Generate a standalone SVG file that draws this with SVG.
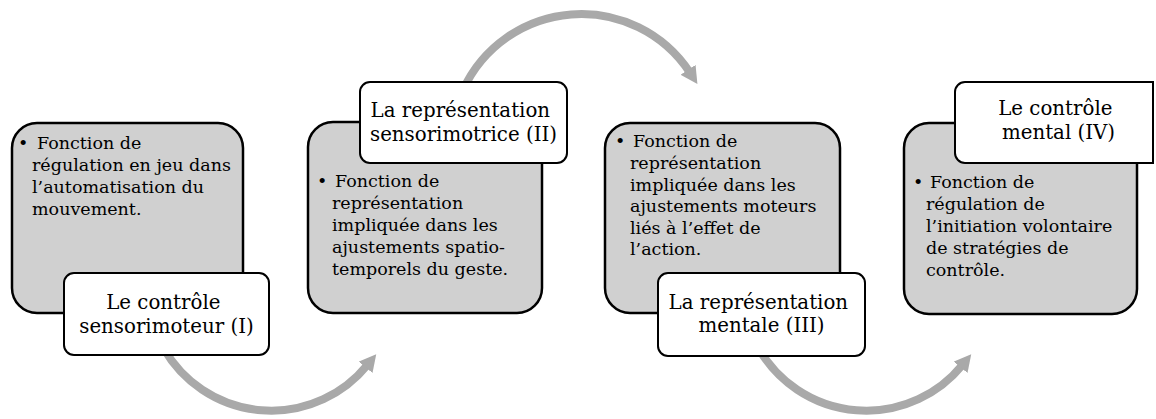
<svg xmlns="http://www.w3.org/2000/svg" width="1156" height="419" viewBox="0 0 1156 419">
  <style>
    .gbox { fill: #D0D0D0; stroke: #000; stroke-width: 2.5; }
    .wbox { fill: #FFFFFF; stroke: #000; stroke-width: 2; }
    .btxt { font-family: "DejaVu Serif", "Liberation Serif", serif; font-size: 17.5px; fill: #000; }
    .ttxt { font-family: "DejaVu Serif", "Liberation Serif", serif; font-size: 19.8px; fill: #000; text-anchor: middle; }
    .arc { fill: none; stroke: #A9A9A9; stroke-width: 8; }
  </style>
  <defs>
    <marker id="ah" markerUnits="userSpaceOnUse" markerWidth="20" markerHeight="20" refX="3" refY="9" orient="auto" viewBox="0 0 20 20">
      <path d="M0,0 L17,9 L0,18 Z" fill="#A9A9A9"/>
    </marker>
  </defs>
  <rect width="1156" height="419" fill="#FFFFFF"/>

  <g id="connectors">
    <path class="arc" d="M164,349 A124,124 0 0 0 367.4,365" marker-end="url(#ah)"/>
    <path class="arc" d="M463,90 A130,130 0 0 1 689.7,72.3" marker-end="url(#ah)"/>
    <path class="arc" d="M759,349 A124,124 0 0 0 962.4,365" marker-end="url(#ah)"/>
  </g>

  <g id="node1">
    <rect class="gbox" x="12" y="123" width="231" height="190" rx="25"/>
    <text class="btxt">
      <tspan x="18" y="149">•</tspan><tspan x="37" y="149">Fonction de</tspan>
      <tspan x="32" y="171">régulation en jeu dans</tspan>
      <tspan x="32" y="193">l’automatisation du</tspan>
      <tspan x="32" y="215">mouvement.</tspan>
    </text>
    <rect class="wbox" x="64" y="273" width="205" height="82" rx="10"/>
    <text class="ttxt">
      <tspan x="166.5" y="309">Le contrôle</tspan>
      <tspan x="166.5" y="333">sensorimoteur (I)</tspan>
    </text>
  </g>

  <g id="node2">
    <rect class="gbox" x="308" y="122" width="234" height="191" rx="25"/>
    <text class="btxt">
      <tspan x="317" y="187">•</tspan><tspan x="335" y="187">Fonction de</tspan>
      <tspan x="332" y="209">représentation</tspan>
      <tspan x="332" y="231">impliquée dans les</tspan>
      <tspan x="332" y="253">ajustements spatio-</tspan>
      <tspan x="332" y="275">temporels du geste.</tspan>
    </text>
    <rect class="wbox" x="360" y="82" width="207" height="81" rx="10"/>
    <text class="ttxt">
      <tspan x="463.5" y="117">La représentation</tspan>
      <tspan x="463.5" y="141">sensorimotrice (II)</tspan>
    </text>
  </g>

  <g id="node3">
    <rect class="gbox" x="605" y="123" width="235" height="190" rx="25"/>
    <text class="btxt">
      <tspan x="615" y="147">•</tspan><tspan x="633" y="147">Fonction de</tspan>
      <tspan x="630" y="169">représentation</tspan>
      <tspan x="630" y="191">impliquée dans les</tspan>
      <tspan x="630" y="212">ajustements moteurs</tspan>
      <tspan x="630" y="234">liés à l’effet de</tspan>
      <tspan x="630" y="255">l’action.</tspan>
    </text>
    <rect class="wbox" x="658" y="273" width="207" height="83" rx="10"/>
    <text class="ttxt">
      <tspan x="761.5" y="309">La représentation</tspan>
      <tspan x="761.5" y="332">mentale (III)</tspan>
    </text>
  </g>

  <g id="node4">
    <rect class="gbox" x="904" y="123" width="233" height="191" rx="25"/>
    <text class="btxt">
      <tspan x="913" y="188">•</tspan><tspan x="930" y="188">Fonction de</tspan>
      <tspan x="926" y="210">régulation de</tspan>
      <tspan x="926" y="232">l’initiation volontaire</tspan>
      <tspan x="926" y="254">de stratégies de</tspan>
      <tspan x="926" y="276">contrôle.</tspan>
    </text>
    <path class="wbox" d="M965,82 H1153 V163 H965 A10,10 0 0 1 955,153 V92 A10,10 0 0 1 965,82 Z"/>
    <text class="ttxt">
      <tspan x="1058.5" y="115">Le contrôle</tspan>
      <tspan x="1058.5" y="139">mental (IV)</tspan>
    </text>
  </g>
</svg>
